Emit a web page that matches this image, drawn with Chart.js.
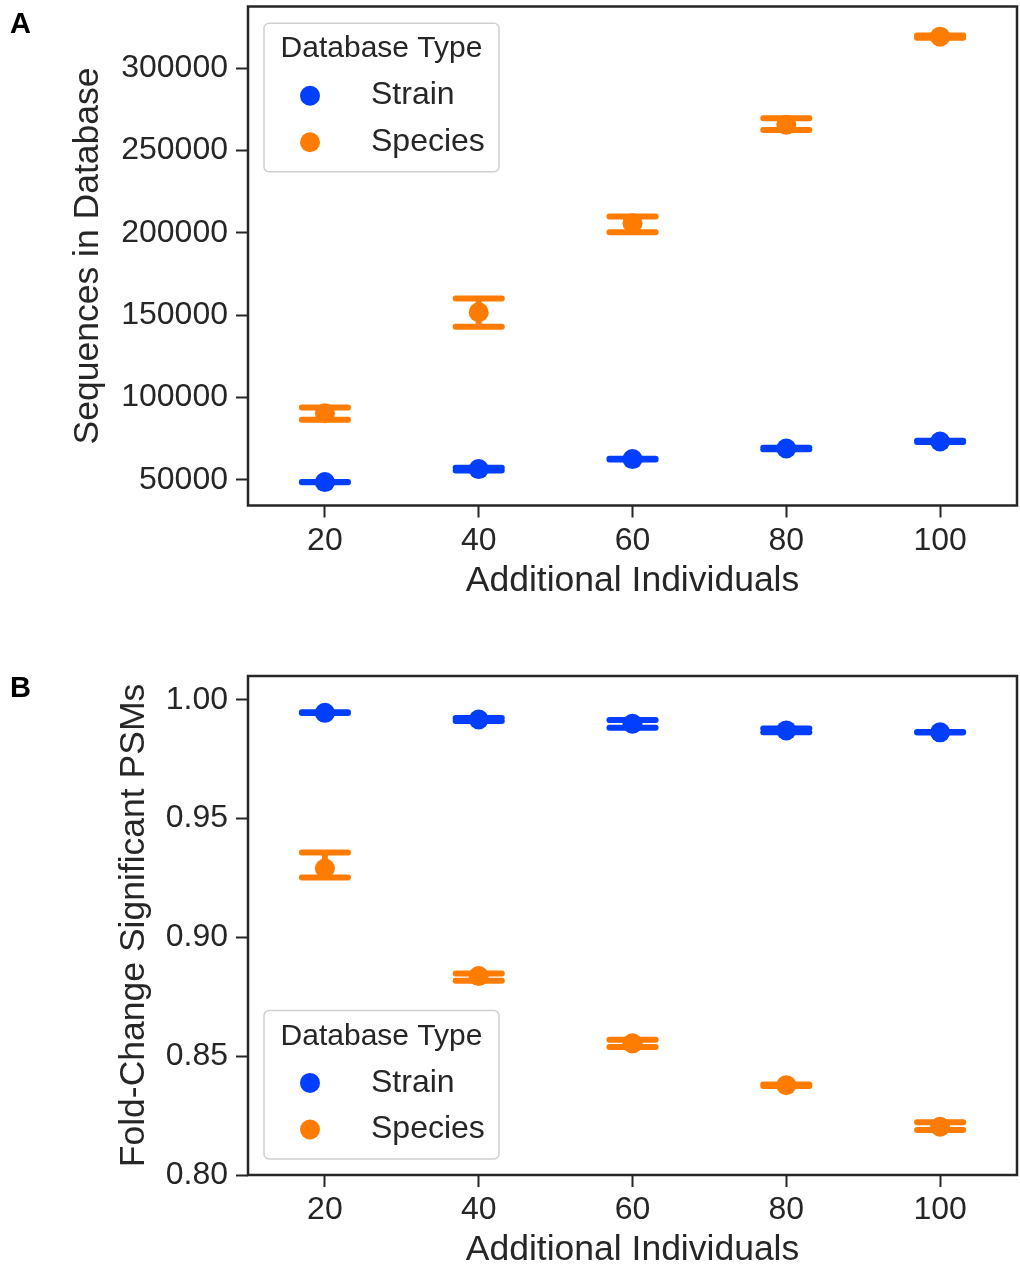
<!DOCTYPE html>
<html>
<head>
<meta charset="utf-8">
<title>Database size and fold-change of significant PSMs</title>
<script src="https://cdn.jsdelivr.net/npm/chart.js@4.4.1/dist/chart.umd.min.js"></script>
<style>
  html, body { margin: 0; padding: 0; background: #fff; overflow: hidden; }
  #page { position: relative; width: 1020px; height: 1266px; overflow: hidden; background: #fff; }
  #page canvas { position: absolute; left: 0; }
  #chartA { top: 0; }
  #chartB { top: 633px; }
</style>
</head>
<body>
<div id="page">
  <canvas id="chartA" width="1020" height="633"></canvas>
  <canvas id="chartB" width="1020" height="660"></canvas>
</div>
<script>
// Number of additional individuals (x categories)
const individuals = ['20', '40', '60', '80', '100'];

// Panel A: sequences in database, mean with confidence interval bounds
const seqStrainMean  = [48600, 56500, 62600, 69000, 73300];
const seqStrainLow   = [48500, 55600, 62400, 68500, 72900];
const seqStrainHigh  = [48700, 57400, 62800, 69500, 73700];
const seqSpeciesMean = [90500, 151800, 205900, 265600, 319200];
const seqSpeciesLow  = [86500, 142900, 200400, 262500, 318500];
const seqSpeciesHigh = [93900, 160100, 209900, 269600, 319900];
const seqTicks = [50000, 100000, 150000, 200000, 250000, 300000];

// Panel B: fold-change of significant PSMs, mean with confidence interval bounds
const psmStrainMean  = [0.9945, 0.9917, 0.9899, 0.9871, 0.9863];
const psmStrainLow   = [0.9944, 0.9911, 0.9882, 0.9863, 0.9862];
const psmStrainHigh  = [0.9947, 0.9923, 0.9915, 0.9879, 0.9864];
const psmSpeciesMean = [0.9290, 0.8837, 0.8554, 0.8378, 0.8203];
const psmSpeciesLow  = [0.9252, 0.8817, 0.8539, 0.8375, 0.8189];
const psmSpeciesHigh = [0.9357, 0.8848, 0.8569, 0.8381, 0.8222];
const psmTicks = [0.80, 0.85, 0.90, 0.95, 1.00];

const seriesNames = ['Strain', 'Species'];
const seriesColors = ['#023eff', '#ff7c00'];
const legendTitle = 'Database Type';

const INK = '#262626';
const FONT = "'Liberation Sans', Arial, Helvetica, sans-serif";

// Vertical CI line with caps, drawn under the point markers
const errorBarPlugin = {
  id: 'errorBars',
  beforeDatasetsDraw(chart, args, opts) {
    const ctx = chart.ctx;
    const xs = chart.scales.x, ys = chart.scales.y;
    const step = xs.getPixelForValue(1) - xs.getPixelForValue(0);
    const half = step * opts.capsize / 2;
    ctx.save();
    ctx.lineWidth = opts.width;
    ctx.lineCap = 'round';
    chart.data.datasets.forEach((ds, d) => {
      const meta = chart.getDatasetMeta(d);
      ctx.strokeStyle = ds.borderColor;
      meta.data.forEach((pt, i) => {
        const yl = ys.getPixelForValue(ds.errLow[i]);
        const yh = ys.getPixelForValue(ds.errHigh[i]);
        ctx.beginPath();
        ctx.moveTo(pt.x, yl); ctx.lineTo(pt.x, yh);
        ctx.moveTo(pt.x - half, yl); ctx.lineTo(pt.x + half, yl);
        ctx.moveTo(pt.x - half, yh); ctx.lineTo(pt.x + half, yh);
        ctx.stroke();
      });
    });
    ctx.restore();
  }
};

// Full box around the plotting area, boxed legend and panel letter
const framePlugin = {
  id: 'frameLegend',
  afterDraw(chart, args, opts) {
    const ctx = chart.ctx;
    const ca = chart.chartArea;
    ctx.save();
    ctx.strokeStyle = INK;
    ctx.lineWidth = 2.5;
    ctx.strokeRect(ca.left, ca.top, ca.right - ca.left, ca.bottom - ca.top);

    // legend
    const w = 235, h = 148.5;
    const bx = ca.left + 16;
    const by = opts.corner === 'upper left' ? ca.top + 16.8 : ca.bottom - 16 - h;
    ctx.beginPath();
    ctx.roundRect(bx, by, w, h, 5);
    ctx.fillStyle = 'rgba(255,255,255,0.8)';
    ctx.fill();
    ctx.strokeStyle = '#d0d0d0';
    ctx.lineWidth = 1.5;
    ctx.stroke();
    ctx.fillStyle = INK;
    ctx.font = '30px ' + FONT;
    ctx.textAlign = 'center';
    ctx.textBaseline = 'alphabetic';
    ctx.fillText(opts.title, bx + w / 2, by + 34);
    ctx.font = '32px ' + FONT;
    chart.data.datasets.forEach((ds, d) => {
      const rowY = by + d * 46.6;
      ctx.beginPath();
      ctx.arc(bx + 46, rowY + 72.4, 10, 0, Math.PI * 2);
      ctx.fillStyle = ds.backgroundColor;
      ctx.fill();
      ctx.fillStyle = INK;
      ctx.textAlign = 'left';
      ctx.fillText(ds.label, bx + 107, rowY + 81);
    });

    // panel letter
    ctx.fillStyle = '#000';
    ctx.font = "bold 29px 'Liberation Sans', Arial, sans-serif";
    ctx.textAlign = 'left';
    ctx.fillText(opts.panel, opts.panelX, opts.panelY);
    ctx.restore();
  }
};

function tickGrid() {
  return { drawOnChartArea: false, drawTicks: true, tickLength: 12, tickWidth: 2, tickColor: INK };
}

// keep the plotting area exactly where the layout puts it
function clearPadding(s) {
  s.paddingTop = 0; s.paddingBottom = 0; s.paddingLeft = 0; s.paddingRight = 0;
}

function makeDatasets(means, lows, highs) {
  return means.map((m, k) => ({
    label: seriesNames[k],
    data: m,
    errLow: lows[k],
    errHigh: highs[k],
    showLine: false,
    borderColor: seriesColors[k],
    backgroundColor: seriesColors[k],
    pointBackgroundColor: seriesColors[k],
    pointBorderWidth: 0,
    pointRadius: 10,
    pointHoverRadius: 10
  }));
}

function makeChart(canvas, cfg) {
  return new Chart(canvas, {
    type: 'line',
    data: {
      labels: individuals,
      datasets: makeDatasets(cfg.means, cfg.lows, cfg.highs)
    },
    options: {
      responsive: false,
      animation: false,
      events: [],
      layout: { autoPadding: false, padding: { top: cfg.padTop, right: 3, left: 0, bottom: 0 } },
      plugins: {
        legend: { display: false },
        tooltip: { enabled: false },
        errorBars: { capsize: 0.3, width: 6 },
        frameLegend: { title: legendTitle, corner: cfg.legendCorner, panel: cfg.panel, panelX: 10, panelY: cfg.panelY }
      },
      scales: {
        x: {
          type: 'category',
          offset: true,
          grid: tickGrid(),
          border: { display: false },
          ticks: { color: INK, font: { family: FONT, size: 32 }, padding: 4, maxRotation: 0, autoSkip: false },
          title: {
            display: true, text: 'Additional Individuals', color: INK,
            font: { family: FONT, size: 35.5, lineHeight: 1 },
            padding: { top: 0, bottom: cfg.xTitlePad }
          },
          afterFit: s => { s.height = cfg.xHeight; clearPadding(s); }
        },
        y: {
          type: 'linear',
          min: cfg.yMin,
          max: cfg.yMax,
          grid: tickGrid(),
          border: { display: false },
          ticks: { color: INK, font: { family: FONT, size: 32 }, padding: 8, callback: cfg.fmt },
          afterBuildTicks: s => { s.ticks = cfg.ticks.map(v => ({ value: v })); },
          title: {
            display: true, text: cfg.yTitle, color: INK,
            font: { family: FONT, size: 35.5, lineHeight: 1 },
            padding: { top: cfg.yTitlePad, bottom: 0 }
          },
          afterFit: s => { s.width = 248; clearPadding(s); }
        }
      }
    },
    plugins: [errorBarPlugin, framePlugin]
  });
}

makeChart(document.getElementById('chartA'), {
  means: [seqStrainMean, seqSpeciesMean],
  lows: [seqStrainLow, seqSpeciesLow],
  highs: [seqStrainHigh, seqSpeciesHigh],
  yMin: 34400, yMax: 337500,
  ticks: seqTicks,
  fmt: v => String(v),
  yTitle: 'Sequences in Database',
  yTitlePad: 70.5,
  xTitlePad: 34.5,
  xHeight: 127.5,
  padTop: 6.5,
  legendCorner: 'upper left',
  panel: 'A', panelY: 33
});

makeChart(document.getElementById('chartB'), {
  means: [psmStrainMean, psmSpeciesMean],
  lows: [psmStrainLow, psmSpeciesLow],
  highs: [psmStrainHigh, psmSpeciesHigh],
  yMin: 0.80, yMax: 1.01,
  ticks: psmTicks,
  fmt: v => v.toFixed(2),
  yTitle: 'Fold-Change Significant PSMs',
  yTitlePad: 116.5,
  xTitlePad: 25,
  xHeight: 118,
  padTop: 43,
  legendCorner: 'lower left',
  panel: 'B', panelY: 64
});
</script>
</body>
</html>
